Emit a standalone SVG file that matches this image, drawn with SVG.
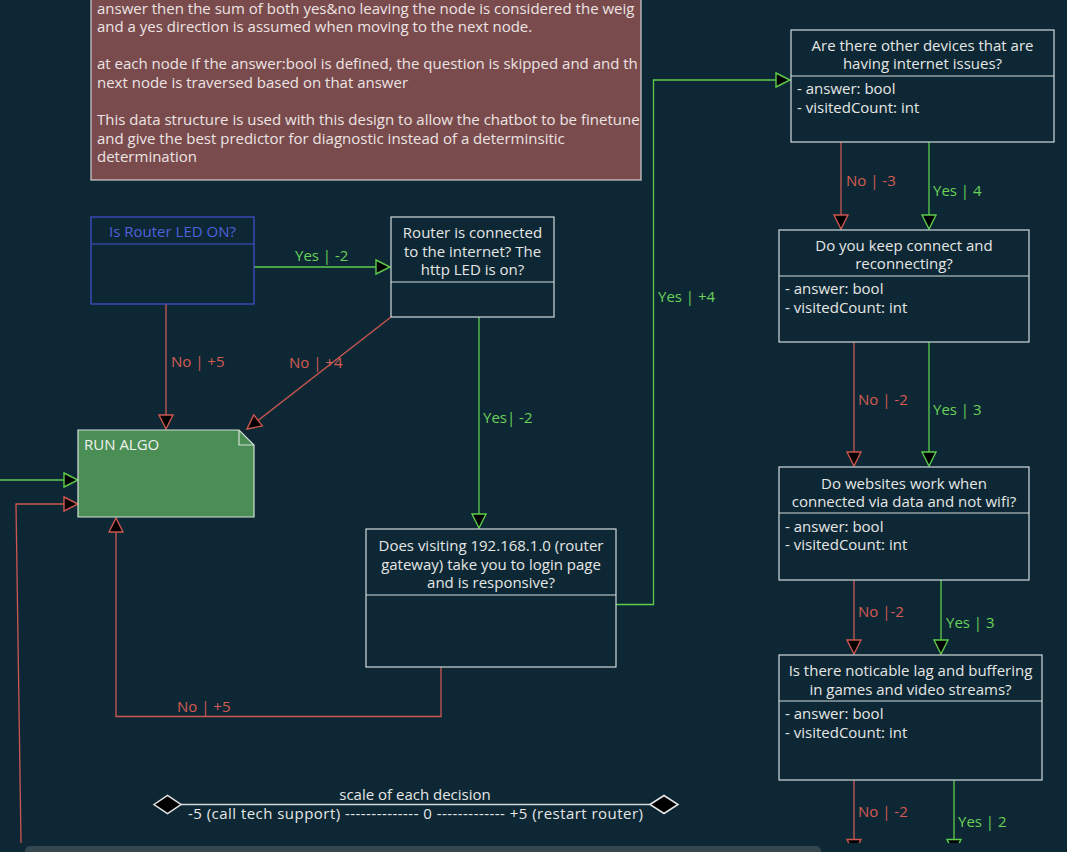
<svg xmlns="http://www.w3.org/2000/svg" width="1067" height="852" viewBox="0 0 1067 852">
<defs>
<style>
.t{font-family:"Open Sans","Noto Sans",sans-serif;font-size:15px;fill:#e6e6e6}
.c{text-anchor:middle}
.box{fill:#0d2834;stroke:#d3d9dc;stroke-width:1.2}
.dv{stroke:#d3d9dc;stroke-width:1.2}
.r{stroke:#cd5650;fill:none;stroke-width:1.3}
.g{stroke:#5ecb4b;fill:none;stroke-width:1.3}
.rt{fill:#d65b53}
.gt{fill:#69d158}
</style>
<marker id="ar" markerUnits="userSpaceOnUse" markerWidth="18" markerHeight="18" viewBox="-2 -2 18 18" refX="14" refY="7" orient="auto">
<path d="M0,0 L14,7 L0,14 Z" fill="#000" stroke="#cd5650" stroke-width="1.4"/>
</marker>
<marker id="ag" markerUnits="userSpaceOnUse" markerWidth="18" markerHeight="18" viewBox="-2 -2 18 18" refX="14" refY="7" orient="auto">
<path d="M0,0 L14,7 L0,14 Z" fill="#000" stroke="#5ecb4b" stroke-width="1.4"/>
</marker>
<clipPath id="view"><rect x="0" y="0" width="1067" height="843"/></clipPath>
<clipPath id="noteclip"><rect x="91" y="-10" width="550" height="190"/></clipPath>
</defs>
<rect x="0" y="0" width="1067" height="852" fill="#0d2834"/>
<g clip-path="url(#view)">
<g id="note">
<rect x="91" y="-10" width="550" height="190" fill="#7a4b4c" stroke="#cfcfcf" stroke-width="1.2"/>
<g clip-path="url(#noteclip)" class="t" style="fill:#ece4e4">
<text x="97" y="13.5">answer then the sum of both yes&amp;no leaving the node is considered the weig</text>
<text x="97" y="31.5">and a yes direction is assumed when moving to the next node.</text>
<text x="97" y="69">at each node if the answer:bool is defined, the question is skipped and and th</text>
<text x="97" y="87.5">next node is traversed based on that answer</text>
<text x="97" y="125">This data structure is used with this design to allow the chatbot to be finetune</text>
<text x="97" y="143.5">and give the best predictor for diagnostic instead of a determinsitic</text>
<text x="97" y="161.5">determination</text>
</g>
</g>
<g id="connectors">
<path class="g" d="M254,267 H390" marker-end="url(#ag)"/>
<text class="t gt" x="295" y="261">Yes | -2</text>
<path class="r" d="M166,304 V429" marker-end="url(#ar)"/>
<text class="t rt" x="171" y="366.5">No | +5</text>
<path class="r" d="M391,317 L247,429" marker-end="url(#ar)"/>
<text class="t rt" x="289" y="367.5">No | +4</text>
<path class="g" d="M479,317 V528" marker-end="url(#ag)"/>
<text class="t gt" x="483" y="422.5">Yes| -2</text>
<path class="r" d="M441,667 V716.5 H116 V518" marker-end="url(#ar)"/>
<text class="t rt" x="177" y="711.5">No | +5</text>
<path class="g" d="M616,604.5 H653.5 V80 H790" marker-end="url(#ag)"/>
<text class="t gt" x="658" y="301.5">Yes | +4</text>
<path class="g" d="M0,480 H78" marker-end="url(#ag)"/>
<path class="r" d="M21,843 L16,504 H78" marker-end="url(#ar)"/>
<path class="r" d="M841,142 V229" marker-end="url(#ar)"/>
<text class="t rt" x="846" y="185.5">No | -3</text>
<path class="g" d="M929,142 V229" marker-end="url(#ag)"/>
<text class="t gt" x="933" y="195.5">Yes | 4</text>
<path class="r" d="M854,342 V466" marker-end="url(#ar)"/>
<text class="t rt" x="858" y="404.5">No | -2</text>
<path class="g" d="M929,342 V466" marker-end="url(#ag)"/>
<text class="t gt" x="933" y="414.5">Yes | 3</text>
<path class="r" d="M854,580 V654" marker-end="url(#ar)"/>
<text class="t rt" x="858" y="617">No |-2</text>
<path class="g" d="M941,580 V654" marker-end="url(#ag)"/>
<text class="t gt" x="946" y="627.5">Yes | 3</text>
<path class="r" d="M854,780 V853.5" marker-end="url(#ar)"/>
<text class="t rt" x="858" y="816.5">No | -2</text>
<path class="g" d="M954,780 V853.5" marker-end="url(#ag)"/>
<text class="t gt" x="958" y="826.5">Yes | 2</text>
</g>
<g id="led">
<rect x="91" y="217" width="163" height="87" fill="none" stroke="#4352d2" stroke-width="1.2"/>
<line x1="91" y1="244" x2="254" y2="244" stroke="#4352d2" stroke-width="1.2"/>
<text class="t c" x="172.5" y="237" style="fill:#5060dc">Is Router LED ON?</text>
</g>
<g id="router">
<rect class="box" x="391" y="217" width="163" height="100"/>
<line class="dv" x1="391" y1="282" x2="554" y2="282"/>
<text class="t c" x="472.5" y="238">Router is connected</text>
<text class="t c" x="472.5" y="256.5">to the internet? The</text>
<text class="t c" x="472.5" y="275">http LED is on?</text>
</g>
<g id="gateway">
<rect class="box" x="366" y="529" width="250" height="138"/>
<line class="dv" x1="366" y1="595" x2="616" y2="595"/>
<text class="t c" x="491" y="550.5">Does visiting 192.168.1.0 (router</text>
<text class="t c" x="491" y="569.5">gateway) take you to login page</text>
<text class="t c" x="491" y="587.5">and is responsive?</text>
</g>
<g id="runalgo">
<path d="M78,430 H239 L254,445 V517 H78 Z" fill="#4a8e55" stroke="#d6e0d6" stroke-width="1.2"/>
<path d="M239,430 V445 H254" fill="none" stroke="#d6e0d6" stroke-width="1.2"/>
<text class="t" x="84" y="450" style="fill:#eef2ee">RUN ALGO</text>
</g>
<g id="devices">
<rect class="box" x="791" y="30" width="263" height="112"/>
<line class="dv" x1="791" y1="76" x2="1054" y2="76"/>
<text class="t c" x="922.5" y="50.5">Are there other devices that are</text>
<text class="t c" x="922.5" y="69">having internet issues?</text>
<text class="t" x="797" y="94">- answer: bool</text>
<text class="t" x="797" y="112.5">- visitedCount: int</text>
</g>
<g id="reconnect">
<rect class="box" x="779" y="230" width="250" height="112"/>
<line class="dv" x1="779" y1="276" x2="1029" y2="276"/>
<text class="t c" x="904" y="250.5">Do you keep connect and</text>
<text class="t c" x="904" y="269">reconnecting?</text>
<text class="t" x="785" y="294">- answer: bool</text>
<text class="t" x="785" y="313">- visitedCount: int</text>
</g>
<g id="websites">
<rect class="box" x="779" y="467" width="250" height="113"/>
<line class="dv" x1="779" y1="513" x2="1029" y2="513"/>
<text class="t c" x="904" y="488.5">Do websites work when</text>
<text class="t c" x="904" y="506.5">connected via data and not wifi?</text>
<text class="t" x="785" y="531.5">- answer: bool</text>
<text class="t" x="785" y="550">- visitedCount: int</text>
</g>
<g id="lag">
<rect class="box" x="779" y="655" width="263" height="125"/>
<line class="dv" x1="779" y1="701" x2="1042" y2="701"/>
<text class="t c" x="910.5" y="675.5">Is there noticable lag and buffering</text>
<text class="t c" x="910.5" y="694.5">in games and video streams?</text>
<text class="t" x="785" y="719">- answer: bool</text>
<text class="t" x="785" y="738">- visitedCount: int</text>
</g>
<g id="scale">
<line x1="181" y1="804.5" x2="650" y2="804.5" stroke="#d6d6d6" stroke-width="1.3"/>
<polygon points="154,804.5 167.5,795.5 181,804.5 167.5,813.5" fill="#000" stroke="#e6e6e6" stroke-width="1.5"/>
<polygon points="650,804.5 664,795.5 678,804.5 664,813.5" fill="#000" stroke="#e6e6e6" stroke-width="1.5"/>
<text class="t c" x="415" y="799.5">scale of each decision</text>
<text class="t c" x="415.5" y="818.5" textLength="455" lengthAdjust="spacing">-5 (call tech support) -------------- 0 ------------- +5 (restart router)</text>
</g>
</g>
<rect x="25" y="846" width="796" height="10" rx="5" fill="#34474f"/>
</svg>
